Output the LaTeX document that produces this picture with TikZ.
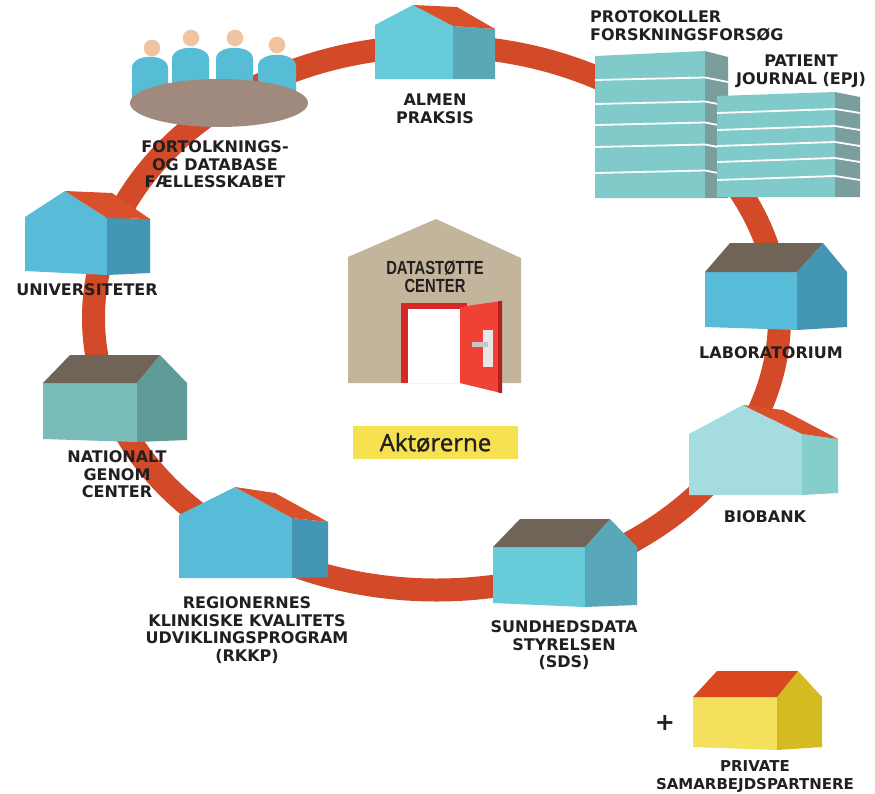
\documentclass[tikz,border=0pt]{standalone}
\usepackage{fontspec}
\newfontfamily\tagfamily{DejaVu Sans}
\newfontfamily\signfamily{Liberation Sans}
\newfontfamily\boxfamily[FakeBold=1.2]{Open Sans}

% palette
\definecolor{ringred}{RGB}{210,74,40}
\definecolor{roofred}{RGB}{217,80,42}
\definecolor{roofbrown}{RGB}{112,100,88}
\definecolor{skyfront}{RGB}{88,188,216}
\definecolor{skyside}{RGB}{67,151,181}
\definecolor{almfront}{RGB}{102,202,217}
\definecolor{almside}{RGB}{88,168,183}
\definecolor{tealfront}{RGB}{122,188,186}
\definecolor{tealside}{RGB}{95,156,152}
\definecolor{sdsfront}{RGB}{104,203,218}
\definecolor{sdsside}{RGB}{89,168,185}
\definecolor{biofront}{RGB}{165,220,223}
\definecolor{bioside}{RGB}{134,206,204}
\definecolor{privfront}{RGB}{244,224,90}
\definecolor{privside}{RGB}{212,187,34}
\definecolor{privroof}{RGB}{217,72,31}
\definecolor{blockfront}{RGB}{128,203,202}
\definecolor{blockside}{RGB}{122,158,155}
\definecolor{tabletop}{RGB}{160,138,126}
\definecolor{skin}{RGB}{240,196,160}
\definecolor{peopleblue}{RGB}{87,188,214}
\definecolor{hallbeige}{RGB}{194,181,156}
\definecolor{doorred}{RGB}{239,65,54}
\definecolor{frame}{RGB}{214,40,40}
\definecolor{dooredge}{RGB}{183,30,30}
\definecolor{labelyellow}{RGB}{246,225,80}
\definecolor{inkgray}{RGB}{35,31,32}

\begin{document}
\begin{tikzpicture}[x=1pt,y=-1pt,
  lbl/.style={font=\tagfamily\bfseries\fontsize{16}{17.6}\selectfont,
              text=inkgray, align=center, inner sep=0pt},
  stripe/.style={draw=white, line width=1.8pt}]

\useasboundingbox (0,0) rectangle (875,793);
\fill[white] (0,0) rectangle (875,793);

% the ring that links the actors
\draw[ringred, line width=23pt] (436.5,318) ellipse [x radius=343, y radius=272];

% ---------- research community around the table ----------
\foreach \xa/\xb/\top in {132/168/57, 172/209/48, 216/253/48, 258/296/55}
  \fill[peopleblue] (\xa,98) -- (\xa,\top+11)
        .. controls (\xa,\top-4) and (\xb,\top-4) .. (\xb,\top+11) -- (\xb,98) -- cycle;
\foreach \hx/\hy in {152/48, 191/38, 235/38, 277/45}
  \fill[skin] (\hx,\hy) circle [radius=8.3];
\fill[tabletop] (219,103) ellipse [x radius=89, y radius=24];
\node[lbl] (community) at (215,164.5) {FORTOLKNINGS-\\OG DATABASE\\FÆLLESSKABET};

% ---------- general practice ----------
\fill[almfront] (375,25) -- (413,5) -- (453,26) -- (453,79) -- (375,79) -- cycle;
\fill[almside] (453,26) -- (495,29) -- (495,79) -- (453,79) -- cycle;
\fill[roofred] (413,5) -- (457,7) -- (495,29) -- (453,26) -- cycle;
\node[lbl] (almen) at (435,109) {ALMEN\\PRAKSIS};

% ---------- protocol block ----------
\fill[blockfront] (595,56) -- (705,51) -- (705,198) -- (595,198) -- cycle;
\fill[blockside] (705,51) -- (728,57) -- (728,198) -- (705,198) -- cycle;
\foreach \sy in {80,104,125,147,173}
  \draw[stripe] (595,\sy) -- (705,\sy-2.5) -- (728,\sy+2);
\node[lbl, align=left, anchor=west] (protocol) at (590,26) {PROTOKOLLER\\FORSKNINGSFORSØG};

% ---------- patient journal block ----------
\fill[blockfront] (717,96) -- (835,92) -- (835,197) -- (717,197) -- cycle;
\fill[blockside] (835,92) -- (860,97) -- (860,197) -- (835,197) -- cycle;
\foreach \sy in {113,130,146,162,180}
  \draw[stripe] (717,\sy) -- (835,\sy-4) -- (860,\sy);
\node[lbl] (journal) at (801,71) {PATIENT\\JOURNAL (EPJ)};

% ---------- universities ----------
\fill[skyfront] (25,217) -- (65,191) -- (107,218) -- (107,275) -- (25,271) -- cycle;
\fill[skyside] (107,218) -- (150,219) -- (150,273) -- (107,275) -- cycle;
\fill[roofred] (65,191) -- (112,193) -- (150,219) -- (107,218) -- cycle;
\node[lbl] (uni) at (87,290) {UNIVERSITETER};

% ---------- laboratory ----------
\fill[skyfront] (705,272) -- (797,272) -- (797,330) -- (705,327) -- cycle;
\fill[skyside] (797,272) -- (823,243) -- (847,272) -- (847,327) -- (797,330) -- cycle;
\fill[roofbrown] (705,272) -- (730,243) -- (823,243) -- (797,272) -- cycle;
\node[lbl] (lab) at (771,353) {LABORATORIUM};

% ---------- national genome centre ----------
\fill[tealfront] (43,383) -- (137,383) -- (137,442) -- (43,439) -- cycle;
\fill[tealside] (137,383) -- (160,355) -- (187,383) -- (187,440) -- (137,442) -- cycle;
\fill[roofbrown] (43,383) -- (70,355) -- (160,355) -- (137,383) -- cycle;
\node[lbl] (genome) at (117,474.5) {NATIONALT\\GENOM\\CENTER};

% ---------- biobank ----------
\fill[biofront] (689,434) -- (743,405) -- (802,434) -- (802,495) -- (689,495) -- cycle;
\fill[bioside] (802,434) -- (838,439) -- (838,493) -- (802,495) -- cycle;
\fill[roofred] (743,405) -- (783,410) -- (838,439) -- (802,434) -- cycle;
\node[lbl] (biobank) at (765,517) {BIOBANK};

% ---------- regional quality programmes ----------
\fill[skyfront] (179,515) -- (235,487) -- (292,518) -- (292,578) -- (179,578) -- cycle;
\fill[skyside] (292,518) -- (328,522) -- (328,577) -- (292,578) -- cycle;
\fill[roofred] (235,487) -- (275,493) -- (328,522) -- (292,518) -- cycle;
\node[lbl] (rkkp) at (247,630) {REGIONERNES\\KLINKISKE KVALITETS\\UDVIKLINGSPROGRAM\\(RKKP)};

% ---------- health data authority ----------
\fill[sdsfront] (493,547) -- (585,547) -- (585,607) -- (493,603) -- cycle;
\fill[sdsside] (585,547) -- (610,519) -- (637,547) -- (637,605) -- (585,607) -- cycle;
\fill[roofbrown] (493,547) -- (520,519) -- (610,519) -- (585,547) -- cycle;
\node[lbl] (sds) at (564,645.5) {SUNDHEDSDATA\\STYRELSEN\\(SDS)};

% ---------- private partners ----------
\fill[privfront] (693,697) -- (777,697) -- (777,750) -- (693,747) -- cycle;
\fill[privside] (777,697) -- (798,671) -- (822,697) -- (822,747) -- (777,750) -- cycle;
\fill[privroof] (693,697) -- (717,671) -- (798,671) -- (777,697) -- cycle;
\node[font=\tagfamily\bfseries\fontsize{24}{24}\selectfont, text=inkgray, inner sep=0pt]
  (plus) at (665,723) {+};
\node[lbl, font=\tagfamily\bfseries\fontsize{15}{17.2}\selectfont]
  (private) at (755,776.5) {PRIVATE\\SAMARBEJDSPARTNERE};

% ---------- data support centre ----------
\fill[hallbeige] (348,257) -- (436,219) -- (521,258) -- (521,383) -- (348,383) -- cycle;
\fill[frame] (401,303) rectangle (467,383);
\fill[white] (408,309) rectangle (467,383);
\fill[doorred] (460,307) -- (501,301) -- (501,393) -- (460,383) -- cycle;
\fill[dooredge] (498,301.4) -- (502,300.8) -- (502,393.2) -- (498,392.3) -- cycle;
\fill[black!9] (483,330) rectangle (493,367);
\fill[black!22] (472,342) rectangle (488,347);
\node[font=\signfamily\bfseries\fontsize{19}{18.5}\selectfont, text=inkgray,
      align=center, inner sep=0pt]
  (centre) at (435,277) {\scalebox{0.78}[1]{DATASTØTTE}\\\scalebox{0.78}[1]{CENTER}};

\node[fill=labelyellow, minimum width=165pt, minimum height=33pt, inner sep=0pt,
      font=\boxfamily\fontsize{24}{24}\selectfont, text=inkgray]
  (actors) at (435.5,442.5) {Aktørerne};

\end{tikzpicture}
\end{document}
